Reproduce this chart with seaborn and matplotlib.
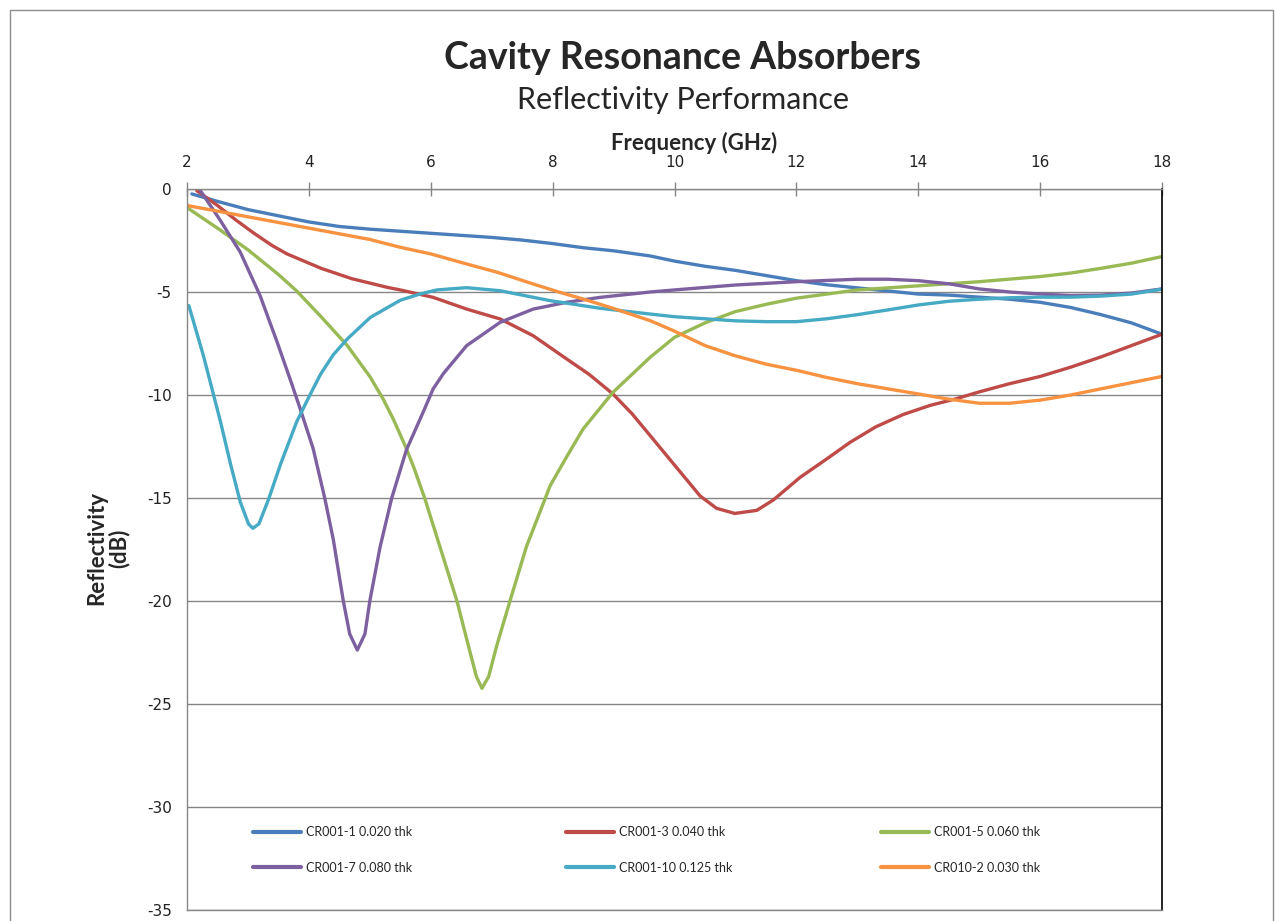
import pandas as pd
import seaborn as sns
import matplotlib.pyplot as plt
from matplotlib.patches import Rectangle
from matplotlib.lines import Line2D

# Data: frequency (GHz) and reflectivity (dB)
cr001_1_freq = [2.08, 2.5, 3.0, 3.5, 4.0, 4.5, 5.0, 5.5, 6.0, 6.5, 7.0, 7.5, 8.0, 8.5, 9.0,
                9.6, 10.0, 10.5, 11.0, 11.5, 12.0, 12.5, 13.0, 13.5, 14.0, 14.5, 15.0, 15.5,
                16.0, 16.5, 17.0, 17.5, 18.0]
cr001_1_db = [-0.24, -0.6, -1.0, -1.3, -1.6, -1.82, -1.95, -2.05, -2.15, -2.25, -2.35, -2.48,
              -2.65, -2.85, -3.0, -3.25, -3.5, -3.75, -3.95, -4.2, -4.45, -4.65, -4.8, -4.95,
              -5.1, -5.15, -5.25, -5.35, -5.5, -5.75, -6.1, -6.5, -7.05]

cr001_3_freq = [2.16, 2.5, 2.8, 3.1, 3.4, 3.64, 4.0, 4.2, 4.7, 5.28, 5.5, 6.04, 6.59, 7.14,
                7.68, 8.23, 8.6, 8.99, 9.3, 9.6, 10.14, 10.42, 10.69, 10.99, 11.35, 11.62,
                12.06, 12.5, 12.88, 13.3, 13.75, 14.2, 14.6, 15.0, 15.5, 16.0, 16.5, 17.0,
                17.5, 18.0]
cr001_3_db = [-0.08, -0.8, -1.5, -2.15, -2.75, -3.15, -3.6, -3.85, -4.35, -4.77, -4.9,
              -5.26, -5.83, -6.31, -7.12, -8.25, -9.0, -9.95, -10.9, -11.97, -13.9, -14.9,
              -15.5, -15.75, -15.6, -15.1, -14.0, -13.1, -12.3, -11.55, -10.95, -10.5, -10.2,
              -9.85, -9.45, -9.1, -8.65, -8.15, -7.6, -7.05]

cr001_5_freq = [2.0, 2.5, 3.0, 3.5, 3.8, 4.2, 4.63, 5.0, 5.22, 5.39, 5.6, 5.72, 5.9,
                6.15, 6.43, 6.62, 6.75, 6.84, 6.95, 7.08, 7.3, 7.57, 7.96, 8.23, 8.5, 8.99,
                9.6, 10.0, 10.5, 11.0, 11.5, 12.0, 12.5, 13.0, 14.0, 15.0, 16.0, 16.5, 17.0,
                17.5, 18.0]
cr001_5_db = [-0.9, -1.9, -2.95, -4.15, -4.95, -6.2, -7.6, -9.1, -10.2, -11.2, -12.6,
              -13.5, -15.0, -17.36, -20.0, -22.2, -23.67, -24.24, -23.67, -22.2, -20.0,
              -17.36, -14.4, -13.0, -11.65, -9.87, -8.17, -7.2, -6.5, -5.95, -5.6, -5.3,
              -5.1, -4.9, -4.7, -4.5, -4.25, -4.08, -3.85, -3.6, -3.28]

cr001_7_freq = [2.22, 2.55, 2.875, 3.2, 3.48, 3.7, 3.85, 4.07, 4.26, 4.4, 4.565, 4.67, 4.795,
                4.92, 5.0, 5.17, 5.36, 5.6, 5.88, 6.04, 6.21, 6.59, 7.14, 7.68, 8.23, 8.78,
                9.6, 10.0, 11.0, 12.0, 13.0, 13.5, 14.0, 14.5, 15.0, 15.5, 16.0, 16.5, 17.0,
                17.5, 18.0]
cr001_7_db = [-0.08, -1.54, -3.07, -5.18, -7.44, -9.3, -10.6, -12.6, -15.0, -17.0, -20.0,
              -21.6, -22.38, -21.6, -20.0, -17.36, -15.0, -12.67, -10.8, -9.7, -8.95, -7.6,
              -6.47, -5.83, -5.5, -5.26, -5.0, -4.9, -4.66, -4.5, -4.38, -4.38, -4.45, -4.6,
              -4.85, -5.0, -5.1, -5.17, -5.15, -5.05, -4.85]

cr001_10_freq = [2.03, 2.27, 2.55, 2.71, 2.875, 3.01, 3.08, 3.18, 3.34, 3.53, 3.8, 4.0, 4.19,
                 4.4, 4.63, 5.01, 5.5, 5.82, 6.1, 6.59, 7.14, 7.96, 8.78, 9.6, 10.0, 10.5,
                 11.0, 11.5, 12.0, 12.5, 13.0, 13.5, 14.0, 14.5, 15.0, 15.5, 16.0, 16.5,
                 17.0, 17.5, 18.0]
cr001_10_db = [-5.66, -8.1, -11.3, -13.3, -15.2, -16.26, -16.47, -16.26, -15.05, -13.4, -11.3,
               -10.1, -9.0, -8.05, -7.28, -6.23, -5.4, -5.1, -4.9, -4.79, -4.94, -5.42,
               -5.79, -6.07, -6.2, -6.3, -6.4, -6.44, -6.44, -6.3, -6.1, -5.87, -5.63,
               -5.45, -5.35, -5.28, -5.25, -5.25, -5.2, -5.1, -4.86]

cr010_2_freq = [2.0, 3.0, 4.0, 5.0, 5.5, 6.0, 6.59, 7.1, 7.68, 8.1, 8.5, 9.0, 9.6, 10.0, 10.5,
                11.0, 11.5, 12.0, 12.5, 13.0, 13.5, 14.0, 14.5, 15.0, 15.5, 16.0, 16.5, 17.0,
                17.5, 18.0]
cr010_2_db = [-0.8, -1.35, -1.9, -2.45, -2.83, -3.15, -3.64, -4.05, -4.61, -5.0, -5.34, -5.8,
              -6.39, -6.9, -7.6, -8.1, -8.5, -8.8, -9.15, -9.45, -9.7, -9.95, -10.2, -10.4,
              -10.4, -10.25, -10.0, -9.7, -9.4, -9.1]

labels = ["CR001-1 0.020 thk", "CR001-3 0.040 thk", "CR001-5 0.060 thk",
          "CR001-7 0.080 thk", "CR001-10 0.125 thk", "CR010-2 0.030 thk"]
colors = ["#4A7EBB", "#BE4B48", "#98B954", "#7D60A0", "#46AAC5", "#F69240"]
freqs = [cr001_1_freq, cr001_3_freq, cr001_5_freq, cr001_7_freq, cr001_10_freq, cr010_2_freq]
dbs = [cr001_1_db, cr001_3_db, cr001_5_db, cr001_7_db, cr001_10_db, cr010_2_db]

x_ticks = [2, 4, 6, 8, 10, 12, 14, 16, 18]
y_ticks = [0, -5, -10, -15, -20, -25, -30, -35]

# long table for seaborn
frames = []
for name, f, r in zip(labels, freqs, dbs):
    frames.append(pd.DataFrame({"Frequency": f, "Reflectivity": r, "Series": name}))
df = pd.concat(frames, ignore_index=True)

sns.set_style("white")
plt.rcParams["axes.unicode_minus"] = False
plt.rcParams["font.family"] = ["DejaVu Sans"]
plt.rcParams["lines.solid_joinstyle"] = "round"

W, H = 1275, 921
fig = plt.figure(figsize=(W / 100, H / 100), dpi=100)
fig.patch.set_facecolor("white")

# outer chart border
fig.patches.append(Rectangle((10 / W, -0.01), 1263 / W, 1 - 10 / H + 0.01,
                             transform=fig.transFigure, fill=False,
                             edgecolor="#8C8C8C", linewidth=1))

left, right, top, bottom = 187, 1162, 189, 910
ax = fig.add_axes([left / W, 1 - bottom / H, (right - left) / W, (bottom - top) / H])

sns.lineplot(data=df, x="Frequency", y="Reflectivity", hue="Series", hue_order=labels,
             palette=dict(zip(labels, colors)), estimator=None, sort=False,
             linewidth=2.4, legend=False, ax=ax)

ax.set_xlim(2, 18)
ax.set_ylim(-35, 0)
ax.set_xticks(x_ticks)
ax.set_yticks(y_ticks)
ax.xaxis.tick_top()
ax.xaxis.set_label_position("top")
ax.tick_params(axis="x", direction="inout", length=10, width=1, color="#868686",
               labelsize=11, pad=9, labelcolor="#222222")
ax.tick_params(axis="y", direction="out", length=6, width=1, color="#868686",
               labelsize=11, pad=5, labelcolor="#222222")
ax.grid(axis="y", color="#868686", linewidth=1)
ax.grid(axis="x", visible=False)
for side in ["left", "top", "bottom"]:
    ax.spines[side].set_color("#868686")
    ax.spines[side].set_linewidth(1)
ax.spines["right"].set_color("black")
ax.spines["right"].set_linewidth(1.2)

ax.set_xlabel("Frequency (GHz)", fontsize=16, fontweight="bold", family="Lato")
ax.xaxis.set_label_coords((694 - left) / (right - left), 1 + (189 - 150) / (bottom - top))
ax.set_ylabel("Reflectivity\n(dB)", fontsize=16, fontweight="bold", family="Lato",
              linespacing=1.05)
ax.yaxis.set_label_coords(-(187 - 130) / (right - left), 1 - (548 - 189) / (bottom - top))

# titles
fig.text(683 / W, 1 - 58 / H, "Cavity Resonance Absorbers", ha="center", va="center",
         fontsize=27, fontweight="bold", family="Lato")
fig.text(683 / W, 1 - 100 / H, "Reflectivity Performance", ha="center", va="center",
         fontsize=22, family="Lato")

# legend laid out in rows of three, one legend per column
handles = [Line2D([], [], color=c, linewidth=3) for c in colors]
col_x = [253, 566, 881]
for i, x0 in enumerate(col_x):
    leg = ax.legend([handles[i], handles[i + 3]], [labels[i], labels[i + 3]],
                    loc="upper left",
                    bbox_to_anchor=((x0 - left) / (right - left), 1 - (826 - top) / (bottom - top)),
                    frameon=False, prop={"family": "Lato", "size": 9},
                    handlelength=3.8, handletextpad=0.45, labelspacing=1.9,
                    borderaxespad=0, borderpad=0)
    if i < 2:
        ax.add_artist(leg)

fig.savefig("out.png", dpi=100)
